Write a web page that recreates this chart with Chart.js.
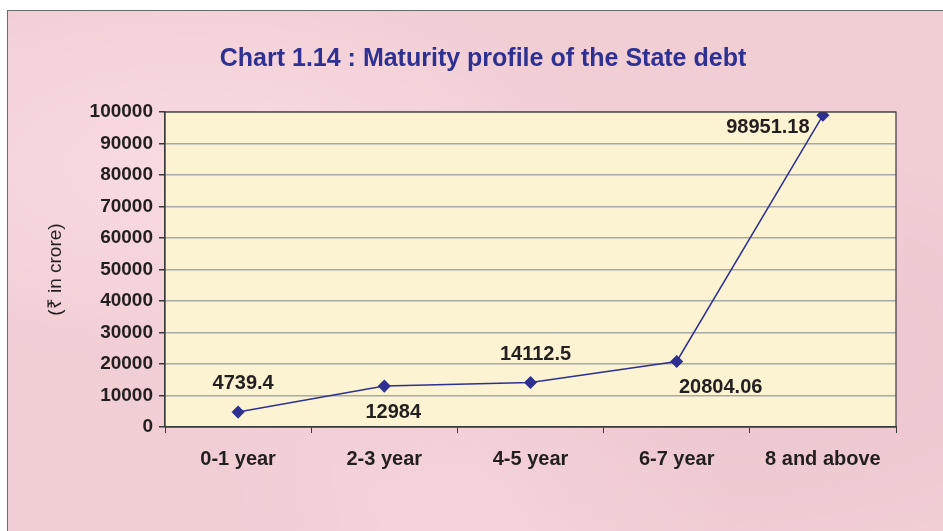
<!DOCTYPE html>
<html>
<head>
<meta charset="utf-8">
<title>Maturity profile of the State debt</title>
<script src="https://cdn.jsdelivr.net/npm/chart.js@4.4.1/dist/chart.umd.min.js"></script>
<style>
  body { margin: 0; background: #ffffff; }
  #frame {
    position: absolute;
    left: 7px;
    top: 10px;
    width: 936px;
    height: 521px;
    border-left: 1px solid #6b6b6b;
    border-top: 1px solid #6b6b6b;
    background-color: #f1cdd4;
    background-image:
      radial-gradient(ellipse at 20% 30%, rgba(255,235,240,0.5), transparent 40%),
      radial-gradient(ellipse at 75% 65%, rgba(230,185,195,0.4), transparent 45%),
      radial-gradient(ellipse at 50% 90%, rgba(250,220,228,0.5), transparent 40%);
  }
  canvas { display: block; }
</style>
</head>
<body>
<div id="frame"><canvas id="chart" width="935" height="520"></canvas></div>
<script>
"use strict";

// data
const maturityBuckets = ["0-1 year", "2-3 year", "4-5 year", "6-7 year", "8 and above"];
const debtValues = [4739.4, 12984, 14112.5, 20804.06, 98951.18];
const valueLabels = ["4739.4", "12984", "14112.5", "20804.06", "98951.18"];
const yTicks = [0, 10000, 20000, 30000, 40000, 50000, 60000, 70000, 80000, 90000, 100000];

const fontFamily = "'Liberation Sans', Arial, sans-serif";
const darkText = "#231f20";
const navy = "#2e3192";

// yellow plot area + frame around it
const plotBox = {
  id: "plotBox",
  beforeDraw(chart) {
    const { ctx, chartArea } = chart;
    ctx.save();
    ctx.fillStyle = "#fbf3d2";
    ctx.fillRect(chartArea.left, chartArea.top, chartArea.right - chartArea.left, chartArea.bottom - chartArea.top);
    ctx.restore();
  },
  afterDatasetsDraw(chart) {
    const { ctx, chartArea } = chart;
    ctx.save();
    ctx.strokeStyle = "#3a3a3a";
    ctx.lineWidth = 1.2;
    ctx.strokeRect(chartArea.left, chartArea.top, chartArea.right - chartArea.left, chartArea.bottom - chartArea.top);
    ctx.restore();
  }
};

// value labels next to each point, offsets as in the original
const pointLabels = {
  id: "pointLabels",
  afterDraw(chart, args, opts) {
    const { ctx } = chart;
    const meta = chart.getDatasetMeta(0);
    ctx.save();
    ctx.font = "bold 20px " + fontFamily;
    ctx.fillStyle = darkText;
    ctx.textAlign = "center";
    ctx.textBaseline = "middle";
    meta.data.forEach((pt, i) => {
      const off = opts.offsets[i];
      ctx.fillText(valueLabels[i], pt.x + off[0], pt.y + off[1]);
    });
    ctx.restore();
  }
};

const data = {
  labels: maturityBuckets,
  datasets: [
    {
      label: "Maturity profile",
      data: debtValues,
      borderColor: navy,
      borderWidth: 1.5,
      backgroundColor: navy,
      pointStyle: "rectRot",
      pointRadius: 5.5,
      pointBackgroundColor: navy,
      pointBorderColor: navy,
      tension: 0,
    },
  ],
};

const config = {
  type: "line",
  data: data,
  options: {
    responsive: false,
    animation: false,
    layout: { padding: { left: 15, right: 0, top: 0, bottom: 0 } },
    plugins: {
      legend: { display: false },
      tooltip: { enabled: false },
      title: {
        display: true,
        text: "Chart 1.14 : Maturity profile of the State debt",
        color: navy,
        font: { family: fontFamily, size: 25, weight: "bold" },
        padding: { top: 33, bottom: 38 },
      },
      pointLabels: {
        offsets: [[5, -29], [9, 26], [5, -28], [44, 26], [-55, 12]],
      },
    },
    scales: {
      x: {
        offset: true,
        grid: {
          offset: true,
          drawOnChartArea: false,
          drawTicks: true,
          tickLength: 6,
          tickColor: "#3a3a3a",
        },
        border: { color: "#3a3a3a", width: 1.2 },
        ticks: {
          color: darkText,
          font: { family: fontFamily, size: 20, weight: "bold" },
          padding: 14,
          maxRotation: 0,
        },
        afterFit(scale) { scale.height = 104; },
      },
      y: {
        min: 0,
        max: 100000,
        afterBuildTicks(scale) { scale.ticks = yTicks.map(v => ({ value: v })); },
        grid: {
          color: "#a8a8a8",
          lineWidth: 1.5,
          tickLength: 6,
          tickColor: "#3a3a3a",
        },
        border: { color: "#3a3a3a", width: 1.2 },
        ticks: {
          color: darkText,
          font: { family: fontFamily, size: 19, weight: "bold" },
          padding: 6,
          callback: (v) => String(v),
        },
        title: {
          display: true,
          text: "(₹ in crore)",
          color: darkText,
          font: { family: fontFamily, size: 19 },
          padding: { top: 21, bottom: 0 },
        },
        afterFit(scale) { scale.width = 142; },
      },
      // empty strip on the right so the plot ends where the original does
      spacer: {
        type: "linear",
        position: "right",
        display: true,
        grid: { display: false, drawTicks: false },
        border: { display: false },
        ticks: { display: false },
        afterFit(scale) { scale.width = 47; },
      },
    },
  },
  plugins: [plotBox, pointLabels],
};

const debtChart = new Chart(document.getElementById("chart"), config);
</script>
</body>
</html>
